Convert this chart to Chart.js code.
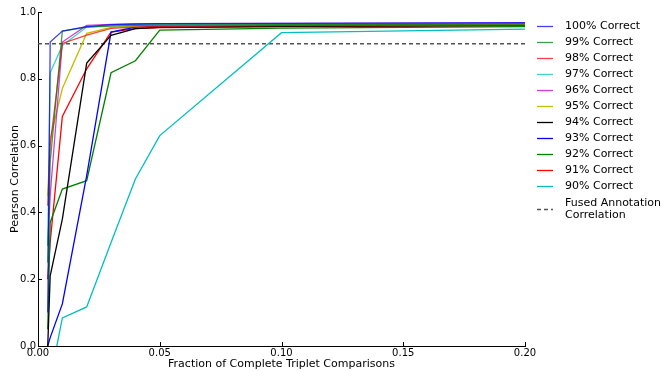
<!DOCTYPE html>
<html>
<head>
<meta charset="utf-8">
<script src="https://cdn.jsdelivr.net/npm/chart.js@4"></script>
<style>
  body { margin: 0; background: #fff; }
  canvas { display: block; }
</style>
</head>
<body>
<canvas id="grafico" width="661" height="371"></canvas>
<script>
// fraction of triplet comparisons used (x)
const fracoes = [0.004, 0.005, 0.01, 0.02, 0.03, 0.04, 0.05, 0.1, 0.2];

const rotulos = ["100% Correct", "99% Correct", "98% Correct", "97% Correct", "96% Correct",
  "95% Correct", "94% Correct", "93% Correct", "92% Correct", "91% Correct", "90% Correct"];

const c100 = [0.10, 0.91, 0.943, 0.956, 0.962, 0.964, 0.965, 0.966, 0.968];
const c99  = [0.25, 0.55, 0.943, 0.955, 0.958, 0.960, 0.961, 0.962, 0.964];
const c98  = [0.42, 0.60, 0.906, 0.931, 0.951, 0.955, 0.957, 0.959, 0.961];
const c97  = [0.30, 0.818, 0.90, 0.955, 0.960, 0.962, 0.963, 0.964, 0.965];
const c96  = [0.30, 0.45, 0.91, 0.960, 0.963, 0.964, 0.965, 0.966, 0.967];
const c95  = [0.45, 0.62, 0.771, 0.936, 0.954, 0.958, 0.960, 0.961, 0.962];
const c94  = [0.00, 0.21, 0.38, 0.847, 0.93, 0.950, 0.954, 0.957, 0.960];
const c93  = [0.00, 0.025, 0.126, 0.51, 0.94, 0.955, 0.958, 0.960, 0.963];
const c92  = [0.05, 0.37, 0.47, 0.495, 0.818, 0.854, 0.946, 0.952, 0.956];
const c91  = [0.20, 0.31, 0.687, 0.83, 0.94, 0.950, 0.953, 0.956, 0.959];
const c90  = [-0.15, -0.10, 0.084, 0.117, 0.31, 0.50, 0.63, 0.938, 0.949];

const fusedX = [0, 0.2];
const fusedY = [0.905, 0.905];

const xTicks = [0, 0.05, 0.10, 0.15, 0.20];
const yTicks = [0, 0.2, 0.4, 0.6, 0.8, 1.0];

const series = [c100, c99, c98, c97, c96, c95, c94, c93, c92, c91, c90];
const cores = [
  "rgba(0,0,255,0.75)", "rgba(0,128,0,0.75)", "rgba(255,0,0,0.75)", "rgba(0,191,191,0.75)", "rgba(191,0,191,0.75)",
  "#bfbf00", "#000000", "#0000ff", "#008000", "#ff0000", "#00bfbf"
];

const datasets = series.map(function(vals, i) {
  return {
    label: rotulos[i],
    data: fracoes.map((x, j) => ({ x: x, y: vals[j] })),
    borderColor: cores[i],
    borderWidth: 1.3,
    pointRadius: 0,
    fill: false,
    tension: 0
  };
});

datasets.push({
  label: "Fused Annotation\nCorrelation",
  data: fusedX.map((x, j) => ({ x: x, y: fusedY[j] })),
  borderColor: "#555555",
  borderWidth: 1.5,
  borderDash: [4, 3],
  pointRadius: 0,
  fill: false
});

const fonte = "'DejaVu Sans', sans-serif";

// legend on the right + inward ticks, drawn by hand
const legendaPlugin = {
  id: "legenda",
  afterDraw(chart) {
    const ctx = chart.ctx;
    const area = chart.chartArea;
    ctx.save();

    // tick marks pointing inward
    ctx.strokeStyle = "#000";
    ctx.lineWidth = 1;
    const sx = chart.scales.x, sy = chart.scales.y;
    xTicks.forEach(function(v) {
      const px = Math.round(sx.getPixelForValue(v)) + 0.5;
      ctx.beginPath();
      ctx.moveTo(px, area.bottom);
      ctx.lineTo(px, area.bottom - 4);
      ctx.stroke();
    });
    yTicks.forEach(function(v) {
      const py = Math.round(sy.getPixelForValue(v)) + 0.5;
      ctx.beginPath();
      ctx.moveTo(area.left, py);
      ctx.lineTo(area.left + 4, py);
      ctx.stroke();
    });

    ctx.font = "11px " + fonte;
    ctx.fillStyle = "#000";
    ctx.textBaseline = "middle";
    chart.data.datasets.forEach(function(ds, i) {
      const y = 26.5 + i * 16;
      ctx.strokeStyle = ds.borderColor;
      ctx.lineWidth = ds.borderWidth;
      ctx.setLineDash(ds.borderDash || []);
      const ly = i === 11 ? 209.5 : y;
      ctx.beginPath();
      ctx.moveTo(537, ly);
      ctx.lineTo(553, ly);
      ctx.stroke();
      ctx.setLineDash([]);
      const linhas = ds.label.split("\n");
      if (linhas.length > 1) {
        ctx.fillText(linhas[0], 565, 203);
        ctx.fillText(linhas[1], 565, 215);
      } else {
        ctx.fillText(ds.label, 565, y);
      }
    });
    ctx.restore();
  }
};

new Chart(document.getElementById("grafico"), {
  type: "line",
  data: { datasets: datasets },
  plugins: [legendaPlugin],
  options: {
    responsive: false,
    animation: false,
    devicePixelRatio: 1,
    layout: { padding: { top: 12, right: 136, left: 0, bottom: 0 } },
    plugins: { legend: { display: false }, tooltip: { enabled: false } },
    scales: {
      x: {
        type: "linear",
        min: 0,
        max: 0.2,
        afterFit: function(s) { s.height = 25; },
        afterBuildTicks: function(s) { s.ticks = xTicks.map(v => ({ value: v })); },
        ticks: {
          callback: v => v.toFixed(2),
          font: { family: fonte, size: 10 },
          color: "#000",
          padding: 1,
          maxRotation: 0
        },
        grid: { display: false, drawTicks: false },
        border: { color: "#000", width: 1 },
        title: {
          display: true,
          text: "Fraction of Complete Triplet Comparisons",
          font: { family: fonte, size: 11 },
          color: "#000",
          padding: 0
        }
      },
      y: {
        min: 0,
        max: 1,
        afterFit: function(s) { s.width = 38; },
        afterBuildTicks: function(s) { s.ticks = yTicks.map(v => ({ value: v })); },
        ticks: {
          callback: v => v.toFixed(1),
          font: { family: fonte, size: 10 },
          color: "#000",
          padding: 2
        },
        grid: { display: false, drawTicks: false },
        border: { color: "#000", width: 1 },
        title: {
          display: true,
          text: "Pearson Correlation",
          font: { family: fonte, size: 11 },
          color: "#000",
          padding: { top: 9, bottom: 0 }
        }
      }
    }
  }
});
</script>
</body>
</html>
